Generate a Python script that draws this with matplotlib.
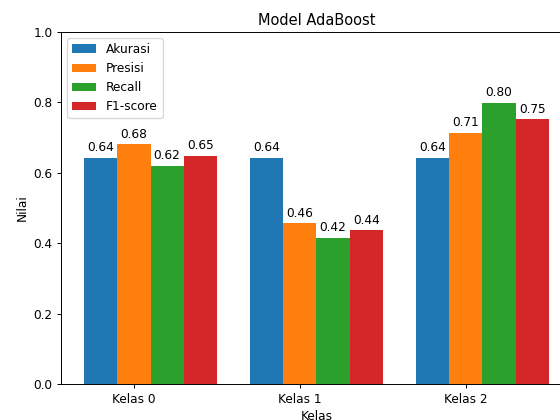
import matplotlib
matplotlib.use("Agg")
import matplotlib.pyplot as plt
import numpy as np

classes = ["Kelas 0", "Kelas 1", "Kelas 2"]
metrics = ["Akurasi", "Presisi", "Recall", "F1-score"]
akurasi = [0.642, 0.642, 0.642]
presisi = [0.681, 0.456, 0.713]
recall = [0.619, 0.416, 0.798]
f1 = [0.649, 0.437, 0.752]
values = [akurasi, presisi, recall, f1]

DPI = 87.5
fig = plt.figure(figsize=(560/DPI, 420/DPI), dpi=DPI)
ax = fig.add_axes([61/560, 36/420, 511/560, 352/420])
x = np.arange(len(classes))
width = 0.2
for i, (m, v) in enumerate(zip(metrics, values)):
    bars = ax.bar(x + i*width, v, width, label=m)
    ax.bar_label(bars, fmt="%.2f", padding=3)

ax.set_xticks(x + width)
ax.set_xticklabels(classes)
ax.set_ylim(0, 1.0)
ax.set_xlabel("Kelas")
ax.set_ylabel("Nilai")
ax.set_title("Model AdaBoost")
ax.legend(loc="upper left")
fig.savefig("out.png", dpi=DPI)
